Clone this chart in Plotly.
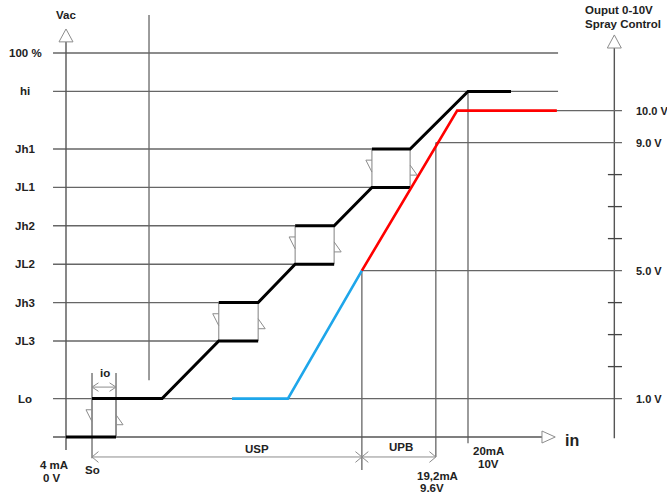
import plotly.graph_objects as go

# ---------------- data (x: input position, % of the 4..20 mA span; y: signal level units) ----------------
LEVEL_NAMES = ["Lo", "JL3", "Jh3", "JL2", "Jh2", "JL1", "Jh1", "hi", "100 %"]
LEVEL_VALUES = [1.0, 2.5, 3.5, 4.5, 5.5, 6.5, 7.5, 9.0, 10.0]
LEVEL_LINE_END = [138.3, 38.0, 38.0, 57.0, 57.0, 76.1, 76.1, 122.4, 122.4]

# hysteresis steps of the Vac output
BOX_X_LEFT = [6.47, 38.0, 57.0, 76.1]
BOX_X_RIGHT = [12.44, 47.8, 66.7, 85.6]
BOX_LOW = [0.0, 2.5, 4.5, 6.5]
BOX_HIGH = [1.0, 3.5, 5.5, 7.5]

STAIR_X = [[0.0, 12.44], [6.47, 23.9, 38.0, 47.8], [38.0, 47.8, 57.0, 66.7],
           [57.0, 66.7, 76.1, 85.6], [76.1, 85.6, 100.0, 110.7]]
STAIR_Y = [[0.0, 0.0], [1.0, 1.0, 2.5, 2.5], [3.5, 3.5, 4.5, 4.5],
           [5.5, 5.5, 6.5, 6.5], [7.5, 7.5, 9.0, 9.0]]

# output 0-10 V spray control (volts on the right axis)
OUT_BLUE_X = [41.3, 55.2, 73.6]
OUT_BLUE_V = [1.0, 1.0, 5.0]
OUT_RED_X = [73.6, 97.3, 122.1]
OUT_RED_V = [5.0, 10.0, 10.0]

OUT_TICKS_V = [2, 3, 4, 6, 7, 8]
OUT_LABEL_V = [10.0, 9.0, 5.0, 1.0]
OUT_LABEL_TEXT = ["10.0 V", "9.0 V", "5.0 V", "1.0 V"]
OUT_LINE_START = [97.3, 92.0, 73.6, 138.3]

# input markers (vertical lines)
MARK_X = [6.47, 12.44, 73.6, 92.0, 100.0, 20.65]
MARK_TOP = [1.67, 1.67, 4.333, 7.667, 9.0, 10.99]
MARK_BOTTOM = [-0.55, 0.0, -0.86, -0.52, -0.16, 1.48]

# axis geometry
X_LEFT_AXIS = 0.0
X_RIGHT_AXIS = 136.4
X_GRID_START = -3.23
X_TICK_L, X_TICK_R = 134.8, 138.3
Y_SPAN_ARROW = -0.52
Y_IO_ARROW = 1.30

# ------------------------------------------------------------------------------------------------------
GREY = "#666666"
LIGHT = "#8c8c8c"
FONT = "Liberation Sans, Arial, Helvetica, sans-serif"

fig = go.Figure()


def add_segments(xs_list, ys_list, color, width, yaxis="y"):
    x, y = [], []
    for xs, ys in zip(xs_list, ys_list):
        x += list(xs) + [None]
        y += list(ys) + [None]
    fig.add_trace(go.Scatter(x=x, y=y, mode="lines", yaxis=yaxis, hoverinfo="skip",
                             line=dict(color=color, width=width)))


def add_triangle(xs, ys):
    fig.add_trace(go.Scatter(x=xs + [xs[0]], y=ys + [ys[0]], mode="lines", fill="toself",
                             fillcolor="white", hoverinfo="skip",
                             line=dict(color=LIGHT, width=1)))


# horizontal level lines
add_segments([[X_GRID_START, e] for e in LEVEL_LINE_END],
             [[v, v] for v in LEVEL_VALUES], GREY, 1.4)
# output voltage lines and ticks (right axis, volts)
add_segments([[s, X_TICK_R] for s in OUT_LINE_START[:3]],
             [[v, v] for v in OUT_LABEL_V[:3]], GREY, 1.4, yaxis="y2")
add_segments([[X_TICK_L, X_TICK_R] for _ in OUT_TICKS_V],
             [[v, v] for v in OUT_TICKS_V], "#444444", 1.3, yaxis="y2")
# vertical marker lines
add_segments([[x, x] for x in MARK_X],
             [[b, t] for b, t in zip(MARK_BOTTOM, MARK_TOP)], GREY, 1.3)
# axes
add_segments([[X_LEFT_AXIS, X_LEFT_AXIS], [X_RIGHT_AXIS, X_RIGHT_AXIS], [X_GRID_START, 118.4]],
             [[-0.34, 10.29], [-0.03, 10.13], [0.0, 0.0]], "#555555", 1.4)
add_triangle([X_LEFT_AXIS - 1.74, X_LEFT_AXIS + 1.74, X_LEFT_AXIS], [10.29, 10.29, 10.625])
add_triangle([X_RIGHT_AXIS - 1.74, X_RIGHT_AXIS + 1.74, X_RIGHT_AXIS], [10.13, 10.13, 10.47])
add_triangle([118.4, 118.4, 121.7], [0.156, -0.156, 0.0])

# span arrows (USP, UPB, io)
add_segments([[MARK_X[0], MARK_X[2]], [MARK_X[2], MARK_X[3]], [MARK_X[0], MARK_X[1]]],
             [[Y_SPAN_ARROW] * 2, [Y_SPAN_ARROW] * 2, [Y_IO_ARROW] * 2], LIGHT, 1)
chev_x, chev_y = [], []
for tip, d, yy, h in [(MARK_X[0], 1, Y_SPAN_ARROW, 0.14), (MARK_X[2], -1, Y_SPAN_ARROW, 0.14),
                      (MARK_X[2], 1, Y_SPAN_ARROW, 0.14), (MARK_X[3], -1, Y_SPAN_ARROW, 0.14),
                      (MARK_X[0], 1, Y_IO_ARROW, 0.11), (MARK_X[1], -1, Y_IO_ARROW, 0.11)]:
    chev_x.append([tip + d * 1.6, tip, tip + d * 1.6])
    chev_y.append([yy + h, yy, yy - h])
add_segments(chev_x, chev_y, LIGHT, 1)

# hysteresis box sides and direction marks
add_segments([[x, x] for x in BOX_X_LEFT + BOX_X_RIGHT],
             [[lo, hi] for lo, hi in zip(BOX_LOW + BOX_LOW, BOX_HIGH + BOX_HIGH)], LIGHT, 1.1)
tri_x, tri_y = [], []
for xl, xr, hi in zip(BOX_X_LEFT, BOX_X_RIGHT, BOX_HIGH):
    tri_x.append([xl, xl - 1.5, xl])
    tri_y.append([hi - 0.29, hi - 0.29, hi - 0.6])
    tri_x.append([xr, xr + 1.75, xr])
    tri_y.append([hi - 0.42, hi - 0.68, hi - 0.68])
add_segments(tri_x, tri_y, LIGHT, 1)

# staircase and output curves
add_segments(STAIR_X, STAIR_Y, "black", 3)
fig.add_trace(go.Scatter(x=OUT_BLUE_X, y=OUT_BLUE_V, mode="lines", yaxis="y2", hoverinfo="skip",
                         line=dict(color="#1ea6ea", width=2.6)))
fig.add_trace(go.Scatter(x=OUT_RED_X, y=OUT_RED_V, mode="lines", yaxis="y2", hoverinfo="skip",
                         line=dict(color="#ff0000", width=2.6)))

# ---------------- text ----------------
ann = []


def txt(x, y, s, size=11.5, xanchor="center", yref="y"):
    ann.append(dict(x=x, y=y, xref="x", yref=yref, text=s, showarrow=False, xanchor=xanchor,
                    yanchor="middle", font=dict(family=FONT, size=size, color="#222222", weight="bold")))


for name, v in zip(LEVEL_NAMES, LEVEL_VALUES):
    txt(-10.2, v, name)
for s, v in zip(OUT_LABEL_TEXT, OUT_LABEL_V):
    txt(141.3, v, s, size=11, xanchor="left", yref="y2")
txt(0.0, 10.98, "Vac")
txt(128.6, 11.12, "Ouput 0-10V", xanchor="left")
txt(128.6, 10.76, "Spray Control", xanchor="left")
txt(-3.0, -0.73, "4 mA")
txt(-3.4, -1.07, "0 V")
txt(6.47, -0.86, "So")
txt(9.7, 1.68, "io")
txt(47.5, -0.31, "USP")
txt(83.3, -0.26, "UPB")
txt(92.5, -1.02, "19,2mA")
txt(91.0, -1.33, "9.6V")
txt(105.2, -0.36, "20mA")
txt(105.0, -0.70, "10V")
txt(125.8, -0.08, "in", size=16)

fig.update_layout(
    width=667, height=495, margin=dict(l=0, r=0, t=0, b=0),
    plot_bgcolor="white", paper_bgcolor="white", showlegend=False,
    xaxis=dict(range=[-16.418, 149.502], visible=False, fixedrange=True),
    yaxis=dict(range=[-1.510, 11.380], visible=False, fixedrange=True),
    yaxis2=dict(range=[-2.012, 13.456], overlaying="y", visible=False, fixedrange=True),
    annotations=ann,
)

fig.write_html("out.html", config={"displayModeBar": False},
               post_script="document.body.style.margin='0';document.body.style.overflow='hidden';")
